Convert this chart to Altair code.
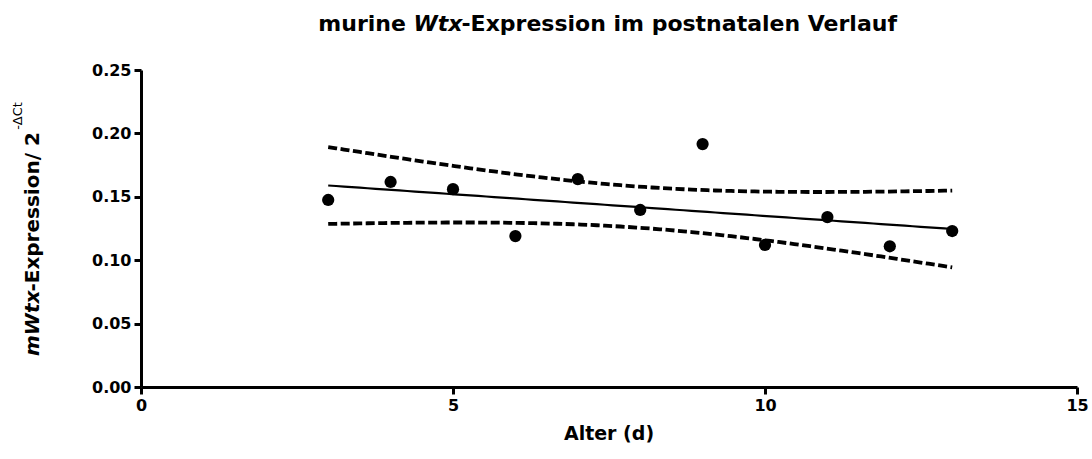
import altair as alt
import numpy as np
import pandas as pd

# Postnatal age (days) and relative murine Wtx expression (2^-dCt)
age_days = [3, 4, 5, 6, 7, 8, 9, 10, 11, 12, 13]
expression = [0.1475, 0.1617, 0.156, 0.119, 0.164, 0.1396, 0.1916,
              0.112, 0.134, 0.111, 0.123]

x_ticks = [0, 5, 10, 15]
y_ticks = [0.0, 0.05, 0.10, 0.15, 0.20, 0.25]

FONT = "DejaVu Sans"
W, H = 936, 317
LEFT, TOP = 141, 70

# Advance widths (em) of DejaVu Sans Bold, used to chain mixed-style text runs
ADV = {"m": 1.042, "u": .712, "r": .493, "i": .343, "n": .712, "e": .678,
       " ": .348, "W": .989, "t": .478, "x": .712, "-": .415, "E": .683,
       "p": .716, "s": .595, "o": .687, "a": .675, "l": .343, "V": .774,
       "f": .435, "/": .365, "2": .696}


def run_width(s, size):
    return sum(ADV[c] for c in s) * size


# Linear regression with 95 % confidence band of the fitted mean
x = np.array(age_days, dtype=float)
y = np.array(expression, dtype=float)
n = len(x)
slope, intercept = np.polyfit(x, y, 1)
resid = y - (intercept + slope * x)
s = np.sqrt((resid ** 2).sum() / (n - 2))
t_975 = 2.262  # Student t, df = 9
xs = np.linspace(x.min(), x.max(), 80)
fit = intercept + slope * xs
se = s * np.sqrt(1.0 / n + (xs - x.mean()) ** 2 / ((x - x.mean()) ** 2).sum())

points_df = pd.DataFrame({"age": age_days, "expr": expression})
fit_df = pd.DataFrame({"age": xs, "fit": fit,
                       "lower": fit - t_975 * se, "upper": fit + t_975 * se})

x_enc = alt.X("age:Q", title=None,
              scale=alt.Scale(domain=[0, 15], nice=False, zero=False),
              axis=alt.Axis(values=x_ticks, format="d", labelPadding=3,
                            labelFlush=False))
y_scale = alt.Scale(domain=[0, 0.25], nice=False)
y_axis = alt.Axis(values=y_ticks, format=".2f", labelPadding=3)

points = alt.Chart(points_df).mark_circle(size=150, color="black", opacity=1).encode(
    x=x_enc, y=alt.Y("expr:Q", title=None, scale=y_scale, axis=y_axis))

fit_line = alt.Chart(fit_df).mark_line(color="black", strokeWidth=2.2).encode(
    x="age:Q", y=alt.Y("fit:Q", scale=y_scale))

band_style = dict(color="black", strokeWidth=3.8, strokeDash=[9, 3.5])
lower_line = alt.Chart(fit_df).mark_line(**band_style).encode(
    x="age:Q", y=alt.Y("lower:Q", scale=y_scale))
upper_line = alt.Chart(fit_df).mark_line(**band_style).encode(
    x="age:Q", y=alt.Y("upper:Q", scale=y_scale))


def text(txt, px, py, size, italic=False, angle=0, align="left", weight="bold"):
    """Text run placed in page pixels."""
    kw = dict(text=txt, font=FONT, fontSize=size, fontWeight=weight,
              fontStyle="italic" if italic else "normal",
              align=align, baseline="alphabetic", color="black")
    if angle:
        kw["angle"] = angle
    return alt.Chart(pd.DataFrame({"t": [txt]})).mark_text(**kw).encode(
        x=alt.value(px - LEFT), y=alt.value(py - TOP))


# Title: "murine " + italic "Wtx" + rest, centred over the plot
T_SIZE = 22
t_parts = ["murine ", "Wtx", "-Expression im postnatalen Verlauf"]
t_widths = [run_width(p, T_SIZE) for p in t_parts]
t_x = LEFT + W / 2 - sum(t_widths) / 2
t_base = 31
title_runs = []
for part, wdt, it in zip(t_parts, t_widths, [False, True, False]):
    title_runs.append(text(part, t_x, t_base, T_SIZE, italic=it))
    t_x += wdt

# Y axis title, reading bottom to top: italic "mWtx", "-Expression/ 2", superscript
Y_SIZE = 20
y_start = 356
y_w1 = run_width("mWtx", Y_SIZE)
y_w2 = run_width("-Expression/ 2", Y_SIZE)
ytitle_runs = [
    text("mWtx", 39, y_start, Y_SIZE, italic=True, angle=270),
    text("-Expression/ 2", 39, y_start - y_w1, Y_SIZE, angle=270),
    text("-\u0394Ct", 22, y_start - y_w1 - y_w2 - 1, 13, angle=270, weight="normal"),
]

xtitle = text("Alter (d)", LEFT + W / 2, 440, 19, align="center")

chart = alt.layer(lower_line, upper_line, fit_line, points,
                  *title_runs, *ytitle_runs, xtitle).properties(
    width=W, height=H,
    autosize=alt.AutoSizeParams(type="none"),
    padding={"left": LEFT, "top": TOP, "right": 1092 - LEFT - W, "bottom": 459 - TOP - H},
    background="white",
).configure_view(stroke=None).configure_axis(
    grid=False, domainColor="black", domainWidth=3, tickColor="black",
    tickWidth=3, tickSize=7, labelFont=FONT, labelFontSize=16,
    labelFontWeight="bold", labelColor="black",
)

chart.save("out.html", embed_options={"renderer": "svg", "actions": False})
